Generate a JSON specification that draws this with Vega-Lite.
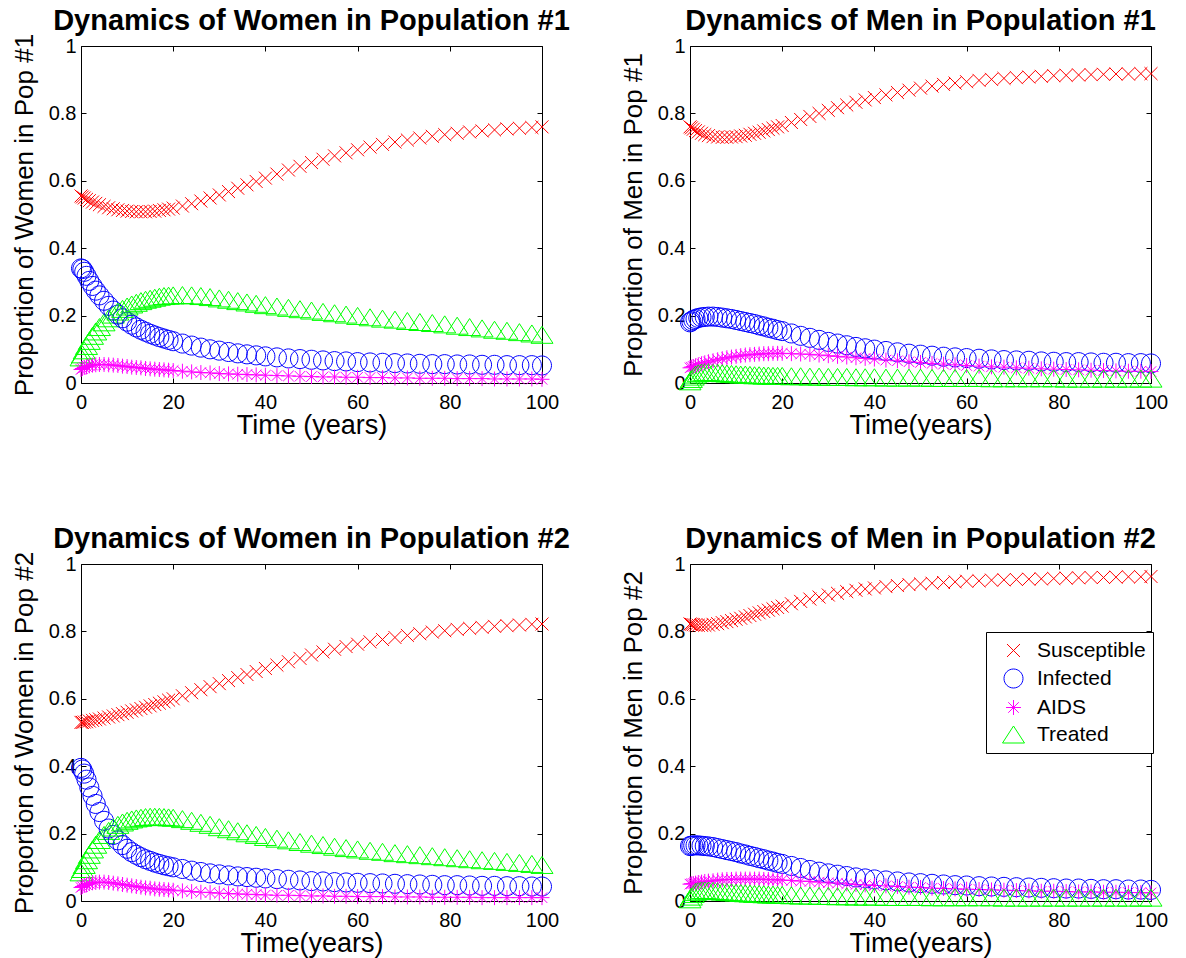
{
"$schema":"https://vega.github.io/schema/vega-lite/v6.json",
"padding":{"left":10,"top":6,"right":5,"bottom":5},
"background":"white",
"config":{
 "font":"Liberation Sans",
 "view":{"stroke":"black","strokeWidth":1},
 "axis":{"grid":false,"domain":false,"tickColor":"black","tickSize":-5,"labelFontSize":20,"labelColor":"black","titleFontWeight":"normal","titleColor":"black","labelFlush":false,"labelOverlap":false},
 "axisX":{"labelPadding":14,"titlePadding":0,"titleFontSize":27},
 "axisY":{"labelPadding":10,"titlePadding":11,"titleFontSize":26},
 "title":{"fontSize":29,"fontWeight":"bold","color":"black","frame":"group","anchor":"middle"}
},
"datasets":{
"w1":[
{"t":0,"S":0.555,"I":0.34,"A":0.04,"T":0.076},
{"t":0.3,"S":0.552,"I":0.338,"A":0.043,"T":0.085},
{"t":0.7,"S":0.549,"I":0.33,"A":0.046,"T":0.097},
{"t":1.2,"S":0.545,"I":0.318,"A":0.049,"T":0.11},
{"t":1.8,"S":0.541,"I":0.303,"A":0.051,"T":0.125},
{"t":2.5,"S":0.537,"I":0.288,"A":0.053,"T":0.14},
{"t":3.2,"S":0.533,"I":0.274,"A":0.054,"T":0.153},
{"t":4,"S":0.529,"I":0.26,"A":0.055,"T":0.166},
{"t":5,"S":0.524,"I":0.244,"A":0.055,"T":0.18},
{"t":6,"S":0.52,"I":0.229,"A":0.054,"T":0.192},
{"t":7,"S":0.517,"I":0.215,"A":0.053,"T":0.203},
{"t":8,"S":0.514,"I":0.203,"A":0.052,"T":0.212},
{"t":9,"S":0.512,"I":0.192,"A":0.05,"T":0.22},
{"t":10,"S":0.51,"I":0.182,"A":0.049,"T":0.227},
{"t":11,"S":0.509,"I":0.173,"A":0.047,"T":0.233},
{"t":12,"S":0.508,"I":0.165,"A":0.046,"T":0.238},
{"t":13,"S":0.508,"I":0.158,"A":0.045,"T":0.243},
{"t":14,"S":0.508,"I":0.152,"A":0.043,"T":0.247},
{"t":15,"S":0.509,"I":0.146,"A":0.042,"T":0.25},
{"t":16,"S":0.51,"I":0.141,"A":0.041,"T":0.253},
{"t":17,"S":0.512,"I":0.136,"A":0.04,"T":0.256},
{"t":18,"S":0.514,"I":0.132,"A":0.039,"T":0.258},
{"t":19,"S":0.516,"I":0.128,"A":0.038,"T":0.259},
{"t":20,"S":0.519,"I":0.124,"A":0.037,"T":0.26},
{"t":22,"S":0.525,"I":0.117,"A":0.035,"T":0.261},
{"t":24,"S":0.532,"I":0.111,"A":0.033,"T":0.26},
{"t":26,"S":0.54,"I":0.105,"A":0.031,"T":0.258},
{"t":28,"S":0.549,"I":0.1,"A":0.03,"T":0.255},
{"t":30,"S":0.558,"I":0.096,"A":0.028,"T":0.251},
{"t":32,"S":0.568,"I":0.092,"A":0.027,"T":0.247},
{"t":34,"S":0.578,"I":0.088,"A":0.026,"T":0.243},
{"t":36,"S":0.588,"I":0.085,"A":0.025,"T":0.239},
{"t":38,"S":0.598,"I":0.082,"A":0.024,"T":0.235},
{"t":40,"S":0.608,"I":0.079,"A":0.023,"T":0.231},
{"t":42.5,"S":0.62,"I":0.076,"A":0.022,"T":0.227},
{"t":45,"S":0.632,"I":0.073,"A":0.021,"T":0.223},
{"t":47.5,"S":0.643,"I":0.071,"A":0.02,"T":0.219},
{"t":50,"S":0.654,"I":0.069,"A":0.019,"T":0.215},
{"t":52.5,"S":0.664,"I":0.067,"A":0.018,"T":0.211},
{"t":55,"S":0.674,"I":0.065,"A":0.018,"T":0.207},
{"t":57.5,"S":0.683,"I":0.064,"A":0.017,"T":0.203},
{"t":60,"S":0.692,"I":0.062,"A":0.017,"T":0.199},
{"t":62.7,"S":0.7,"I":0.061,"A":0.016,"T":0.195},
{"t":65.4,"S":0.708,"I":0.06,"A":0.016,"T":0.191},
{"t":68.1,"S":0.715,"I":0.059,"A":0.015,"T":0.188},
{"t":70.8,"S":0.721,"I":0.058,"A":0.015,"T":0.184},
{"t":73.5,"S":0.727,"I":0.057,"A":0.014,"T":0.181},
{"t":76.2,"S":0.732,"I":0.056,"A":0.014,"T":0.178},
{"t":78.9,"S":0.737,"I":0.056,"A":0.014,"T":0.174},
{"t":81.6,"S":0.741,"I":0.055,"A":0.013,"T":0.17},
{"t":84.3,"S":0.745,"I":0.055,"A":0.013,"T":0.166},
{"t":87,"S":0.748,"I":0.054,"A":0.013,"T":0.162},
{"t":89.7,"S":0.751,"I":0.054,"A":0.012,"T":0.158},
{"t":92.4,"S":0.754,"I":0.053,"A":0.012,"T":0.155},
{"t":95.1,"S":0.756,"I":0.053,"A":0.012,"T":0.151},
{"t":97.8,"S":0.758,"I":0.053,"A":0.012,"T":0.147},
{"t":100,"S":0.76,"I":0.052,"A":0.011,"T":0.143}
],
"m1":[
{"t":0,"S":0.76,"I":0.18,"A":0.045,"T":0.005},
{"t":0.3,"S":0.757,"I":0.183,"A":0.047,"T":0.012},
{"t":0.7,"S":0.753,"I":0.187,"A":0.049,"T":0.019},
{"t":1.2,"S":0.749,"I":0.19,"A":0.051,"T":0.025},
{"t":1.8,"S":0.745,"I":0.193,"A":0.054,"T":0.029},
{"t":2.5,"S":0.741,"I":0.195,"A":0.057,"T":0.031},
{"t":3.2,"S":0.737,"I":0.196,"A":0.06,"T":0.032},
{"t":4,"S":0.734,"I":0.197,"A":0.063,"T":0.032},
{"t":5,"S":0.731,"I":0.197,"A":0.066,"T":0.031},
{"t":6,"S":0.73,"I":0.196,"A":0.069,"T":0.03},
{"t":7,"S":0.729,"I":0.194,"A":0.072,"T":0.029},
{"t":8,"S":0.729,"I":0.192,"A":0.075,"T":0.028},
{"t":9,"S":0.73,"I":0.19,"A":0.077,"T":0.027},
{"t":10,"S":0.731,"I":0.187,"A":0.079,"T":0.026},
{"t":11,"S":0.733,"I":0.184,"A":0.081,"T":0.025},
{"t":12,"S":0.735,"I":0.181,"A":0.083,"T":0.025},
{"t":13,"S":0.738,"I":0.178,"A":0.084,"T":0.024},
{"t":14,"S":0.741,"I":0.175,"A":0.085,"T":0.023},
{"t":15,"S":0.744,"I":0.171,"A":0.086,"T":0.023},
{"t":16,"S":0.748,"I":0.168,"A":0.087,"T":0.022},
{"t":17,"S":0.752,"I":0.164,"A":0.087,"T":0.022},
{"t":18,"S":0.756,"I":0.161,"A":0.088,"T":0.021},
{"t":19,"S":0.76,"I":0.157,"A":0.088,"T":0.021},
{"t":20,"S":0.764,"I":0.154,"A":0.088,"T":0.021},
{"t":22,"S":0.773,"I":0.147,"A":0.087,"T":0.02},
{"t":24,"S":0.782,"I":0.14,"A":0.086,"T":0.02},
{"t":26,"S":0.791,"I":0.134,"A":0.085,"T":0.019},
{"t":28,"S":0.8,"I":0.128,"A":0.083,"T":0.019},
{"t":30,"S":0.809,"I":0.122,"A":0.081,"T":0.018},
{"t":32,"S":0.817,"I":0.117,"A":0.079,"T":0.018},
{"t":34,"S":0.825,"I":0.112,"A":0.077,"T":0.018},
{"t":36,"S":0.833,"I":0.107,"A":0.075,"T":0.017},
{"t":38,"S":0.84,"I":0.103,"A":0.073,"T":0.017},
{"t":40,"S":0.847,"I":0.099,"A":0.071,"T":0.017},
{"t":42.5,"S":0.855,"I":0.095,"A":0.068,"T":0.016},
{"t":45,"S":0.862,"I":0.091,"A":0.066,"T":0.016},
{"t":47.5,"S":0.869,"I":0.087,"A":0.063,"T":0.016},
{"t":50,"S":0.875,"I":0.084,"A":0.061,"T":0.016},
{"t":52.5,"S":0.881,"I":0.081,"A":0.058,"T":0.015},
{"t":55,"S":0.886,"I":0.078,"A":0.056,"T":0.015},
{"t":57.5,"S":0.89,"I":0.076,"A":0.054,"T":0.015},
{"t":60,"S":0.894,"I":0.074,"A":0.052,"T":0.015},
{"t":62.7,"S":0.898,"I":0.072,"A":0.05,"T":0.015},
{"t":65.4,"S":0.901,"I":0.07,"A":0.048,"T":0.014},
{"t":68.1,"S":0.904,"I":0.068,"A":0.047,"T":0.014},
{"t":70.8,"S":0.906,"I":0.067,"A":0.045,"T":0.014},
{"t":73.5,"S":0.908,"I":0.066,"A":0.044,"T":0.014},
{"t":76.2,"S":0.91,"I":0.064,"A":0.042,"T":0.014},
{"t":78.9,"S":0.912,"I":0.063,"A":0.041,"T":0.014},
{"t":81.6,"S":0.913,"I":0.062,"A":0.04,"T":0.013},
{"t":84.3,"S":0.914,"I":0.062,"A":0.039,"T":0.013},
{"t":87,"S":0.915,"I":0.061,"A":0.038,"T":0.013},
{"t":89.7,"S":0.916,"I":0.06,"A":0.037,"T":0.013},
{"t":92.4,"S":0.917,"I":0.06,"A":0.036,"T":0.013},
{"t":95.1,"S":0.917,"I":0.059,"A":0.035,"T":0.013},
{"t":97.8,"S":0.918,"I":0.059,"A":0.035,"T":0.013},
{"t":100,"S":0.918,"I":0.058,"A":0.034,"T":0.013}
],
"w2":[
{"t":0,"S":0.53,"I":0.395,"A":0.04,"T":0.085},
{"t":0.3,"S":0.53,"I":0.39,"A":0.043,"T":0.095},
{"t":0.7,"S":0.531,"I":0.378,"A":0.046,"T":0.107},
{"t":1.2,"S":0.532,"I":0.36,"A":0.049,"T":0.121},
{"t":1.8,"S":0.534,"I":0.337,"A":0.052,"T":0.137},
{"t":2.5,"S":0.536,"I":0.312,"A":0.054,"T":0.153},
{"t":3.2,"S":0.538,"I":0.288,"A":0.055,"T":0.167},
{"t":4,"S":0.54,"I":0.264,"A":0.056,"T":0.181},
{"t":5,"S":0.543,"I":0.238,"A":0.056,"T":0.196},
{"t":6,"S":0.546,"I":0.215,"A":0.055,"T":0.208},
{"t":7,"S":0.549,"I":0.196,"A":0.053,"T":0.218},
{"t":8,"S":0.553,"I":0.18,"A":0.051,"T":0.226},
{"t":9,"S":0.556,"I":0.166,"A":0.049,"T":0.233},
{"t":10,"S":0.56,"I":0.155,"A":0.047,"T":0.238},
{"t":11,"S":0.564,"I":0.145,"A":0.045,"T":0.242},
{"t":12,"S":0.567,"I":0.137,"A":0.043,"T":0.245},
{"t":13,"S":0.571,"I":0.13,"A":0.041,"T":0.247},
{"t":14,"S":0.575,"I":0.124,"A":0.039,"T":0.249},
{"t":15,"S":0.579,"I":0.119,"A":0.038,"T":0.25},
{"t":16,"S":0.583,"I":0.114,"A":0.036,"T":0.25},
{"t":17,"S":0.587,"I":0.11,"A":0.035,"T":0.25},
{"t":18,"S":0.591,"I":0.106,"A":0.034,"T":0.249},
{"t":19,"S":0.596,"I":0.103,"A":0.033,"T":0.248},
{"t":20,"S":0.6,"I":0.1,"A":0.032,"T":0.247},
{"t":22,"S":0.609,"I":0.095,"A":0.03,"T":0.243},
{"t":24,"S":0.618,"I":0.09,"A":0.028,"T":0.238},
{"t":26,"S":0.627,"I":0.086,"A":0.026,"T":0.232},
{"t":28,"S":0.636,"I":0.082,"A":0.025,"T":0.226},
{"t":30,"S":0.645,"I":0.079,"A":0.023,"T":0.219},
{"t":32,"S":0.654,"I":0.076,"A":0.022,"T":0.213},
{"t":34,"S":0.663,"I":0.073,"A":0.021,"T":0.207},
{"t":36,"S":0.672,"I":0.071,"A":0.02,"T":0.201},
{"t":38,"S":0.681,"I":0.069,"A":0.019,"T":0.196},
{"t":40,"S":0.69,"I":0.067,"A":0.018,"T":0.19},
{"t":42.5,"S":0.7,"I":0.065,"A":0.017,"T":0.185},
{"t":45,"S":0.71,"I":0.063,"A":0.017,"T":0.18},
{"t":47.5,"S":0.72,"I":0.061,"A":0.016,"T":0.175},
{"t":50,"S":0.73,"I":0.059,"A":0.015,"T":0.17},
{"t":52.5,"S":0.739,"I":0.058,"A":0.015,"T":0.166},
{"t":55,"S":0.747,"I":0.056,"A":0.014,"T":0.161},
{"t":57.5,"S":0.755,"I":0.055,"A":0.014,"T":0.157},
{"t":60,"S":0.762,"I":0.054,"A":0.013,"T":0.153},
{"t":62.7,"S":0.769,"I":0.053,"A":0.013,"T":0.149},
{"t":65.4,"S":0.776,"I":0.052,"A":0.013,"T":0.146},
{"t":68.1,"S":0.782,"I":0.051,"A":0.012,"T":0.142},
{"t":70.8,"S":0.788,"I":0.05,"A":0.012,"T":0.139},
{"t":73.5,"S":0.793,"I":0.049,"A":0.012,"T":0.136},
{"t":76.2,"S":0.798,"I":0.048,"A":0.011,"T":0.133},
{"t":78.9,"S":0.802,"I":0.047,"A":0.011,"T":0.13},
{"t":81.6,"S":0.806,"I":0.047,"A":0.011,"T":0.127},
{"t":84.3,"S":0.809,"I":0.046,"A":0.011,"T":0.124},
{"t":87,"S":0.812,"I":0.045,"A":0.01,"T":0.121},
{"t":89.7,"S":0.815,"I":0.045,"A":0.01,"T":0.119},
{"t":92.4,"S":0.817,"I":0.044,"A":0.01,"T":0.116},
{"t":95.1,"S":0.819,"I":0.044,"A":0.01,"T":0.113},
{"t":97.8,"S":0.821,"I":0.043,"A":0.01,"T":0.11},
{"t":100,"S":0.822,"I":0.043,"A":0.01,"T":0.107}
],
"m2":[
{"t":0,"S":0.822,"I":0.163,"A":0.05,"T":0.005},
{"t":0.3,"S":0.821,"I":0.164,"A":0.051,"T":0.013},
{"t":0.7,"S":0.82,"I":0.165,"A":0.052,"T":0.021},
{"t":1.2,"S":0.819,"I":0.165,"A":0.053,"T":0.027},
{"t":1.8,"S":0.818,"I":0.165,"A":0.055,"T":0.031},
{"t":2.5,"S":0.818,"I":0.164,"A":0.056,"T":0.032},
{"t":3.2,"S":0.818,"I":0.163,"A":0.058,"T":0.032},
{"t":4,"S":0.819,"I":0.162,"A":0.059,"T":0.031},
{"t":5,"S":0.821,"I":0.16,"A":0.06,"T":0.03},
{"t":6,"S":0.823,"I":0.157,"A":0.062,"T":0.029},
{"t":7,"S":0.826,"I":0.154,"A":0.063,"T":0.028},
{"t":8,"S":0.829,"I":0.151,"A":0.064,"T":0.027},
{"t":9,"S":0.832,"I":0.148,"A":0.064,"T":0.026},
{"t":10,"S":0.836,"I":0.145,"A":0.065,"T":0.025},
{"t":11,"S":0.839,"I":0.141,"A":0.065,"T":0.024},
{"t":12,"S":0.843,"I":0.138,"A":0.065,"T":0.023},
{"t":13,"S":0.847,"I":0.134,"A":0.065,"T":0.022},
{"t":14,"S":0.851,"I":0.131,"A":0.065,"T":0.021},
{"t":15,"S":0.855,"I":0.127,"A":0.065,"T":0.021},
{"t":16,"S":0.859,"I":0.124,"A":0.064,"T":0.02},
{"t":17,"S":0.863,"I":0.12,"A":0.064,"T":0.019},
{"t":18,"S":0.867,"I":0.117,"A":0.063,"T":0.019},
{"t":19,"S":0.871,"I":0.113,"A":0.063,"T":0.018},
{"t":20,"S":0.875,"I":0.11,"A":0.062,"T":0.018},
{"t":22,"S":0.882,"I":0.104,"A":0.061,"T":0.017},
{"t":24,"S":0.889,"I":0.098,"A":0.059,"T":0.016},
{"t":26,"S":0.896,"I":0.092,"A":0.058,"T":0.016},
{"t":28,"S":0.902,"I":0.087,"A":0.056,"T":0.015},
{"t":30,"S":0.908,"I":0.082,"A":0.054,"T":0.015},
{"t":32,"S":0.913,"I":0.078,"A":0.053,"T":0.014},
{"t":34,"S":0.918,"I":0.074,"A":0.051,"T":0.014},
{"t":36,"S":0.922,"I":0.07,"A":0.049,"T":0.013},
{"t":38,"S":0.926,"I":0.067,"A":0.048,"T":0.013},
{"t":40,"S":0.929,"I":0.064,"A":0.046,"T":0.013},
{"t":42.5,"S":0.933,"I":0.061,"A":0.045,"T":0.012},
{"t":45,"S":0.936,"I":0.058,"A":0.043,"T":0.012},
{"t":47.5,"S":0.939,"I":0.055,"A":0.041,"T":0.012},
{"t":50,"S":0.941,"I":0.053,"A":0.04,"T":0.012},
{"t":52.5,"S":0.943,"I":0.051,"A":0.038,"T":0.011},
{"t":55,"S":0.945,"I":0.049,"A":0.037,"T":0.011},
{"t":57.5,"S":0.947,"I":0.047,"A":0.036,"T":0.011},
{"t":60,"S":0.949,"I":0.046,"A":0.035,"T":0.011},
{"t":62.7,"S":0.95,"I":0.044,"A":0.034,"T":0.011},
{"t":65.4,"S":0.952,"I":0.043,"A":0.033,"T":0.011},
{"t":68.1,"S":0.953,"I":0.042,"A":0.032,"T":0.01},
{"t":70.8,"S":0.954,"I":0.041,"A":0.031,"T":0.01},
{"t":73.5,"S":0.955,"I":0.04,"A":0.03,"T":0.01},
{"t":76.2,"S":0.956,"I":0.039,"A":0.029,"T":0.01},
{"t":78.9,"S":0.957,"I":0.038,"A":0.029,"T":0.01},
{"t":81.6,"S":0.958,"I":0.037,"A":0.028,"T":0.01},
{"t":84.3,"S":0.959,"I":0.037,"A":0.027,"T":0.01},
{"t":87,"S":0.96,"I":0.036,"A":0.027,"T":0.01},
{"t":89.7,"S":0.96,"I":0.035,"A":0.026,"T":0.01},
{"t":92.4,"S":0.961,"I":0.035,"A":0.026,"T":0.01},
{"t":95.1,"S":0.962,"I":0.034,"A":0.025,"T":0.01},
{"t":97.8,"S":0.962,"I":0.034,"A":0.025,"T":0.01},
{"t":100,"S":0.963,"I":0.033,"A":0.024,"T":0.01}
]
},
"spacing":85,
"resolve":{"scale":{"color":"independent","shape":"independent"}},
"vconcat":[
{"spacing":48,"resolve":{"scale":{"color":"independent","shape":"independent"}},"hconcat":[
{"width":461,"height":337,"data":{"name":"w1"},"transform":[{"fold":["S","I","A","T"],"as":["s","v"]}],
 "title":{"text":"Dynamics of Women in Population #1","offset":-3},
 "layer":[
  {"mark":{"type":"point","filled":false,"size":484,"strokeWidth":1,"opacity":1},
   "encoding":{
    "x":{"field":"t","type":"quantitative","scale":{"domain":[0,100],"nice":false},"axis":{"values":[0,20,40,60,80,100],"title":"Time (years)"}},
    "y":{"field":"v","type":"quantitative","scale":{"domain":[0,1],"nice":false},"axis":{"values":[0,0.2,0.4,0.6,0.8,1],"format":"~g","title":"Proportion of Women in Pop #1"}},
    "color":{"field":"s","type":"nominal","scale":{"domain":["S","I","A","T"],"range":["#ff0000","#0000ff","#ff00ff","#00ff00"]},"legend":null},
    "shape":{"field":"s","type":"nominal","scale":{"domain":["S","I","A","T"],"range":["M-0.59,-0.59L0.59,0.59M0.59,-0.59L-0.59,0.59","M0.864,0A0.864,0.864,0,1,1,-0.864,0A0.864,0.864,0,1,1,0.864,0","M-0.68,0L0.68,0M0,-0.68L0,0.68M-0.48,-0.48L0.48,0.48M-0.48,0.48L0.48,-0.48","M0,-0.773L1,0.773L-1,0.773Z"]},"legend":null}
   }},
  {"mark":{"type":"point","opacity":0},
   "encoding":{
    "x":{"field":"t","type":"quantitative","axis":{"orient":"top","values":[0,20,40,60,80,100],"labels":false,"title":null}},
    "y":{"field":"v","type":"quantitative","axis":{"orient":"right","values":[0,0.2,0.4,0.6,0.8,1],"labels":false,"title":null}}
   }}
 ],
 "resolve":{"axis":{"x":"independent","y":"independent"}}
},
{"width":461,"height":337,"data":{"name":"m1"},"transform":[{"fold":["S","I","A","T"],"as":["s","v"]}],
 "title":{"text":"Dynamics of Men in Population #1","offset":0},
 "layer":[
  {"mark":{"type":"point","filled":false,"size":484,"strokeWidth":1,"opacity":1},
   "encoding":{
    "x":{"field":"t","type":"quantitative","scale":{"domain":[0,100],"nice":false},"axis":{"values":[0,20,40,60,80,100],"title":"Time(years)"}},
    "y":{"field":"v","type":"quantitative","scale":{"domain":[0,1],"nice":false},"axis":{"values":[0,0.2,0.4,0.6,0.8,1],"format":"~g","title":"Proportion of Men in Pop #1"}},
    "color":{"field":"s","type":"nominal","scale":{"domain":["S","I","A","T"],"range":["#ff0000","#0000ff","#ff00ff","#00ff00"]},"legend":null},
    "shape":{"field":"s","type":"nominal","scale":{"domain":["S","I","A","T"],"range":["M-0.59,-0.59L0.59,0.59M0.59,-0.59L-0.59,0.59","M0.864,0A0.864,0.864,0,1,1,-0.864,0A0.864,0.864,0,1,1,0.864,0","M-0.68,0L0.68,0M0,-0.68L0,0.68M-0.48,-0.48L0.48,0.48M-0.48,0.48L0.48,-0.48","M0,-0.773L1,0.773L-1,0.773Z"]},"legend":null}
   }},
  {"mark":{"type":"point","opacity":0},
   "encoding":{
    "x":{"field":"t","type":"quantitative","axis":{"orient":"top","values":[0,20,40,60,80,100],"labels":false,"title":null}},
    "y":{"field":"v","type":"quantitative","axis":{"orient":"right","values":[0,0.2,0.4,0.6,0.8,1],"labels":false,"title":null}}
   }}
 ],
 "resolve":{"axis":{"x":"independent","y":"independent"}}
}
]},
{"spacing":48,"resolve":{"scale":{"color":"independent","shape":"independent"}},"hconcat":[
{"width":461,"height":337,"data":{"name":"w2"},"transform":[{"fold":["S","I","A","T"],"as":["s","v"]}],
 "title":{"text":"Dynamics of Women in Population #2","offset":-3},
 "layer":[
  {"mark":{"type":"point","filled":false,"size":484,"strokeWidth":1,"opacity":1},
   "encoding":{
    "x":{"field":"t","type":"quantitative","scale":{"domain":[0,100],"nice":false},"axis":{"values":[0,20,40,60,80,100],"title":"Time(years)"}},
    "y":{"field":"v","type":"quantitative","scale":{"domain":[0,1],"nice":false},"axis":{"values":[0,0.2,0.4,0.6,0.8,1],"format":"~g","title":"Proportion of Women in Pop #2"}},
    "color":{"field":"s","type":"nominal","scale":{"domain":["S","I","A","T"],"range":["#ff0000","#0000ff","#ff00ff","#00ff00"]},"legend":null},
    "shape":{"field":"s","type":"nominal","scale":{"domain":["S","I","A","T"],"range":["M-0.59,-0.59L0.59,0.59M0.59,-0.59L-0.59,0.59","M0.864,0A0.864,0.864,0,1,1,-0.864,0A0.864,0.864,0,1,1,0.864,0","M-0.68,0L0.68,0M0,-0.68L0,0.68M-0.48,-0.48L0.48,0.48M-0.48,0.48L0.48,-0.48","M0,-0.773L1,0.773L-1,0.773Z"]},"legend":null}
   }},
  {"mark":{"type":"point","opacity":0},
   "encoding":{
    "x":{"field":"t","type":"quantitative","axis":{"orient":"top","values":[0,20,40,60,80,100],"labels":false,"title":null}},
    "y":{"field":"v","type":"quantitative","axis":{"orient":"right","values":[0,0.2,0.4,0.6,0.8,1],"labels":false,"title":null}}
   }}
 ],
 "resolve":{"axis":{"x":"independent","y":"independent"}}
},
{"width":461,"height":337,"data":{"name":"m2"},"transform":[{"fold":["S","I","A","T"],"as":["s","v"]}],
 "title":{"text":"Dynamics of Men in Population #2","offset":0},
 "layer":[
  {"mark":{"type":"point","filled":false,"size":484,"strokeWidth":1,"opacity":1},
   "encoding":{
    "x":{"field":"t","type":"quantitative","scale":{"domain":[0,100],"nice":false},"axis":{"values":[0,20,40,60,80,100],"title":"Time(years)"}},
    "y":{"field":"v","type":"quantitative","scale":{"domain":[0,1],"nice":false},"axis":{"values":[0,0.2,0.4,0.6,0.8,1],"format":"~g","title":"Proportion of Men in Pop #2"}},
    "color":{"field":"s","type":"nominal","scale":{"domain":["S","I","A","T"],"range":["#ff0000","#0000ff","#ff00ff","#00ff00"]},
      "legend":{"orient":"none","legendX":296,"legendY":68,"title":null,"labelExpr":"datum.label == 'S' ? 'Susceptible' : datum.label == 'I' ? 'Infected' : datum.label == 'A' ? 'AIDS' : 'Treated'","labelFontSize":21,"labelColor":"black","strokeColor":"black","fillColor":"white","padding":7,"symbolSize":484,"symbolStrokeWidth":1,"symbolOffset":9,"labelOffset":12,"rowPadding":5}},
    "shape":{"field":"s","type":"nominal","scale":{"domain":["S","I","A","T"],"range":["M-0.59,-0.59L0.59,0.59M0.59,-0.59L-0.59,0.59","M0.864,0A0.864,0.864,0,1,1,-0.864,0A0.864,0.864,0,1,1,0.864,0","M-0.68,0L0.68,0M0,-0.68L0,0.68M-0.48,-0.48L0.48,0.48M-0.48,0.48L0.48,-0.48","M0,-0.773L1,0.773L-1,0.773Z"]},
      "legend":{"orient":"none","legendX":296,"legendY":68,"title":null,"labelExpr":"datum.label == 'S' ? 'Susceptible' : datum.label == 'I' ? 'Infected' : datum.label == 'A' ? 'AIDS' : 'Treated'","labelFontSize":21,"labelColor":"black","strokeColor":"black","fillColor":"white","padding":7,"symbolSize":484,"symbolStrokeWidth":1,"symbolOffset":9,"labelOffset":12,"rowPadding":5}}
   }},
  {"mark":{"type":"point","opacity":0},
   "encoding":{
    "x":{"field":"t","type":"quantitative","axis":{"orient":"top","values":[0,20,40,60,80,100],"labels":false,"title":null}},
    "y":{"field":"v","type":"quantitative","axis":{"orient":"right","values":[0,0.2,0.4,0.6,0.8,1],"labels":false,"title":null}}
   }}
 ],
 "resolve":{"axis":{"x":"independent","y":"independent"}}
}
]}
]
}
